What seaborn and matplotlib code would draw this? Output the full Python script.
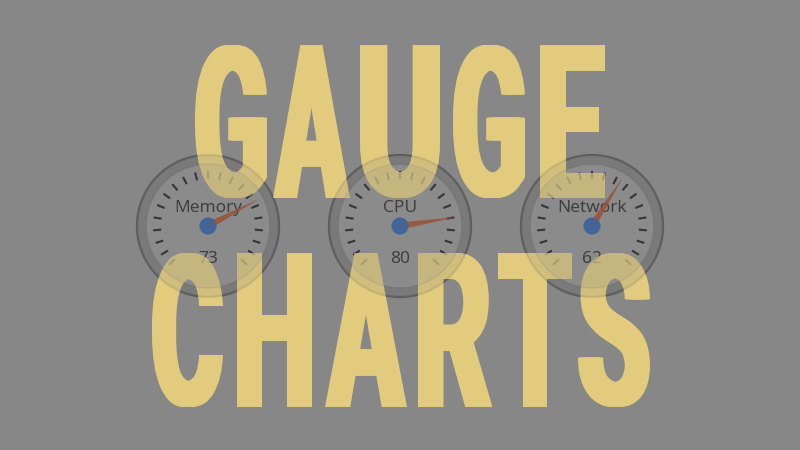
import numpy as np
import pandas as pd
import matplotlib
matplotlib.use('Agg')
import matplotlib.pyplot as plt
import seaborn as sns
from matplotlib.patches import Circle, Polygon, PathPatch
from matplotlib.textpath import TextPath
from matplotlib.font_manager import FontProperties
from matplotlib.transforms import Affine2D

# data
gauge_labels = ['Memory', 'CPU', 'Network']
gauge_values = [73, 80, 62]
title_lines = ['GAUGE', 'CHARTS']

sns.set_style('white')
plt.rcParams['font.family'] = ['Open Sans', 'DejaVu Sans']

BG = '#888787'
TXT = '#e3cb7d'

fig = plt.figure(figsize=(8, 4.5), dpi=100)
fig.patch.set_facecolor(BG)
ax = fig.add_axes([0, 0, 1, 1])
ax.set_facecolor(BG)
ax.set_xlim(0, 800)
ax.set_ylim(450, 0)
ax.set_aspect('equal')
ax.axis('off')

centers_x = [208, 400, 592]
cy = 226


def val2ang(v):
    # 0 -> bottom-left, 100 -> bottom-right, 270 deg sweep
    return np.deg2rad(225 - 2.7 * v)


def draw_gauge(cx, value, label, alpha=1.0, z=2):
    ax.add_patch(Circle((cx, cy), 71, fc='#7a7a7a', ec='#5e5e5e', lw=1.6, alpha=alpha, zorder=z))
    ax.add_patch(Circle((cx, cy), 62, fc='#8f8f8f', ec='#767676', lw=1.0, alpha=alpha, zorder=z))
    for t in np.linspace(0, 100, 21):
        a = val2ang(t)
        ax.plot([cx + 47 * np.cos(a), cx + 55 * np.cos(a)],
                [cy - 47 * np.sin(a), cy - 55 * np.sin(a)],
                color='#1e1e1e', lw=1.5, solid_capstyle='butt', alpha=alpha, zorder=z)
    ax.text(cx, cy - 18, label, ha='center', va='center', fontsize=12.5,
            color='#262626', alpha=alpha, zorder=z)
    ax.text(cx, cy + 33, str(value), ha='center', va='center', fontsize=12.5,
            color='#262626', alpha=alpha, zorder=z)
    a = val2ang(value)
    tip = (cx + 57 * np.cos(a), cy - 57 * np.sin(a))
    p = a + np.pi / 2
    b1 = (cx + 3.5 * np.cos(p), cy - 3.5 * np.sin(p))
    b2 = (cx - 3.5 * np.cos(p), cy + 3.5 * np.sin(p))
    ax.add_patch(Polygon([b1, tip, b2], closed=True, fc='#9e4b2c', ec='none',
                         alpha=alpha, zorder=z + 0.1))


def hubs(alpha=1.0, z=3):
    df = pd.DataFrame({'x': centers_x, 'y': [cy] * len(centers_x), 'g': gauge_labels})
    sns.scatterplot(data=df, x='x', y='y', s=150, color='#2b5ca6', edgecolor='none',
                    alpha=alpha, zorder=z, ax=ax, legend=False)


for cx, v, lab in zip(centers_x, gauge_values, gauge_labels):
    draw_gauge(cx, v, lab)
hubs()

# big condensed title: each letter squeezed into its own box,
# vertical stems thickened by drawing shifted copies
fp = FontProperties(family='Roboto', weight='bold')
line_y = [(45, 198), (253, 407)]
letter_x = [
    [(195, 267), (273, 350), (360, 440), (453, 525), (540, 605)],
    [(152, 223), (237, 312), (325, 407), (418, 492), (498, 572), (578, 650)],
]
thick = 8.0
for word, (y0, y1), xs in zip(title_lines, line_y, letter_x):
    for ch, (x0, x1) in zip(word, xs):
        tp = TextPath((0, 0), ch, size=100, prop=fp)
        ext = tp.get_extents()
        sx = (x1 - x0 - thick) / ext.width
        sy = (y1 - y0) / ext.height
        for dx in np.linspace(0, thick, 9):
            tr = Affine2D().translate(-ext.x0, -ext.y0).scale(sx, -sy).translate(x0 + dx, y1)
            ax.add_patch(PathPatch(tr.transform_path(tp), fc=TXT, ec='none', zorder=5))

# faint show-through of the gauges behind the title
for cx, v, lab in zip(centers_x, gauge_values, gauge_labels):
    draw_gauge(cx, v, lab, alpha=0.17, z=6)
hubs(alpha=0.17, z=7)

ax.set_xlim(0, 800)
ax.set_ylim(450, 0)
fig.savefig('out.png', dpi=100, facecolor=BG)
